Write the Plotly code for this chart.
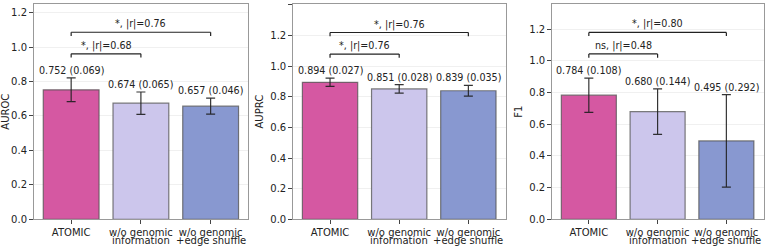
import plotly.graph_objects as go

cat_line1 = ["ATOMIC", "w/o genomic", "w/o genomic"]
cat_line2 = ["", "information", "+edge shuffle"]
metrics = ["AUROC", "AUPRC", "F1"]
means = {
    "AUROC": [0.752, 0.674, 0.657],
    "AUPRC": [0.894, 0.851, 0.839],
    "F1": [0.784, 0.680, 0.495],
}
sds = {
    "AUROC": [0.069, 0.065, 0.046],
    "AUPRC": [0.027, 0.028, 0.035],
    "F1": [0.108, 0.144, 0.292],
}
# comparisons: (i, j, label)
comparisons = {
    "AUROC": [(0, 1, "*, |r|=0.68"), (0, 2, "*, |r|=0.76")],
    "AUPRC": [(0, 1, "*, |r|=0.76"), (0, 2, "*, |r|=0.76")],
    "F1": [(0, 1, "ns, |r|=0.48"), (0, 2, "*, |r|=0.80")],
}
ymax = {"AUROC": 1.25, "AUPRC": 1.405, "F1": 1.36}
ytick_max = {"AUROC": 1.2, "AUPRC": 1.4, "F1": 1.2}

colors = ["rgba(213,88,162,1)", "rgba(204,198,236,1)", "rgba(136,152,208,1)"]
W, H = 766, 248
xdom = [(33.5 / W, 248.3 / W), (292.7 / W, 505.7 / W), (551.7 / W, 763.5 / W)]
ydom = (1 - 219.3 / H, 1 - 4 / H)

FONT = "DejaVu Sans"
fig = go.Figure()
shapes = []
annotations = []

for k, m in enumerate(metrics):
    xa = "x" if k == 0 else f"x{k+1}"
    ya = "y" if k == 0 else f"y{k+1}"
    xs = [0, 1, 2]
    fig.add_trace(go.Bar(
        x=xs, y=means[m], width=0.8,
        marker=dict(color=colors, line=dict(color="rgba(80,80,80,0.75)", width=1.2)),
        error_y=dict(type="data", array=sds[m], visible=True, color="rgba(30,30,30,0.9)",
                     thickness=1.2, width=4.5),
        xaxis=xa, yaxis=ya, showlegend=False, hoverinfo="skip",
    ))
    for i in xs:
        annotations.append(dict(
            x=i, y=means[m][i] + sds[m][i], xref=xa, yref=ya,
            text=f"{means[m][i]:.3f} ({sds[m][i]:.3f})", showarrow=False,
            yanchor="bottom", yshift=0, font=dict(family=FONT, size=9.6, color="#222"),
        ))
        if cat_line2[i]:
            annotations.append(dict(
                x=i, y=1 - 240.8 / H, xref=xa, yref="paper", text=cat_line2[i],
                showarrow=False, yanchor="middle", borderpad=0,
                font=dict(family=FONT, size=10, color="#222"),
            ))
    top = max(a + b for a, b in zip(means[m], sds[m]))
    rng = ymax[m]
    h = top + 0.112 * rng
    leg = 0.017 * rng
    for (i, j, lab) in comparisons[m]:
        for (x0, y0, x1, y1) in [(i, h, j, h), (i, h, i, h - leg), (j, h, j, h - leg)]:
            shapes.append(dict(type="line", xref=xa, yref=ya, x0=x0, y0=y0, x1=x1, y1=y1,
                               line=dict(color="#222", width=1.2)))
        annotations.append(dict(
            x=(i + j) / 2, y=h, xref=xa, yref=ya, text=lab, showarrow=False,
            yanchor="bottom", yshift=0, font=dict(family=FONT, size=9.6, color="#222"),
        ))
        h += 0.1 * rng

    ticks = [round(0.2 * t, 1) for t in range(int(round(ytick_max[m] / 0.2)) + 1)]
    axis_common = dict(showline=True, linecolor="#999", linewidth=1, mirror=True,
                       ticks="outside", ticklen=3.5, tickcolor="#444", automargin=False,
                       tickfont=dict(family=FONT, size=10, color="#222"))
    fig.update_layout(**{
        ("xaxis" if k == 0 else f"xaxis{k+1}"): dict(
            domain=list(xdom[k]), anchor=ya, range=[-0.54, 2.54], tickangle=0,
            tickmode="array", tickvals=xs, ticktext=cat_line1, showgrid=False,
            zeroline=False, **axis_common),
        ("yaxis" if k == 0 else f"yaxis{k+1}"): dict(
            domain=list(ydom), anchor=xa, range=[0, rng],
            tickmode="array", tickvals=ticks, ticktext=[f"{t:.1f}" for t in ticks],
            showgrid=True, gridcolor="rgba(0,0,0,0.06)", gridwidth=1, zeroline=False,
            title=dict(text=m, font=dict(family=FONT, size=10, color="#222"), standoff=4),
            **axis_common),
    })

fig.update_layout(
    width=W, height=H, margin=dict(l=0, r=0, t=0, b=0),
    paper_bgcolor="white", plot_bgcolor="white",
    shapes=shapes, annotations=annotations, bargap=0.2,
    font=dict(family=FONT),
)
fig.write_html("out.html")
